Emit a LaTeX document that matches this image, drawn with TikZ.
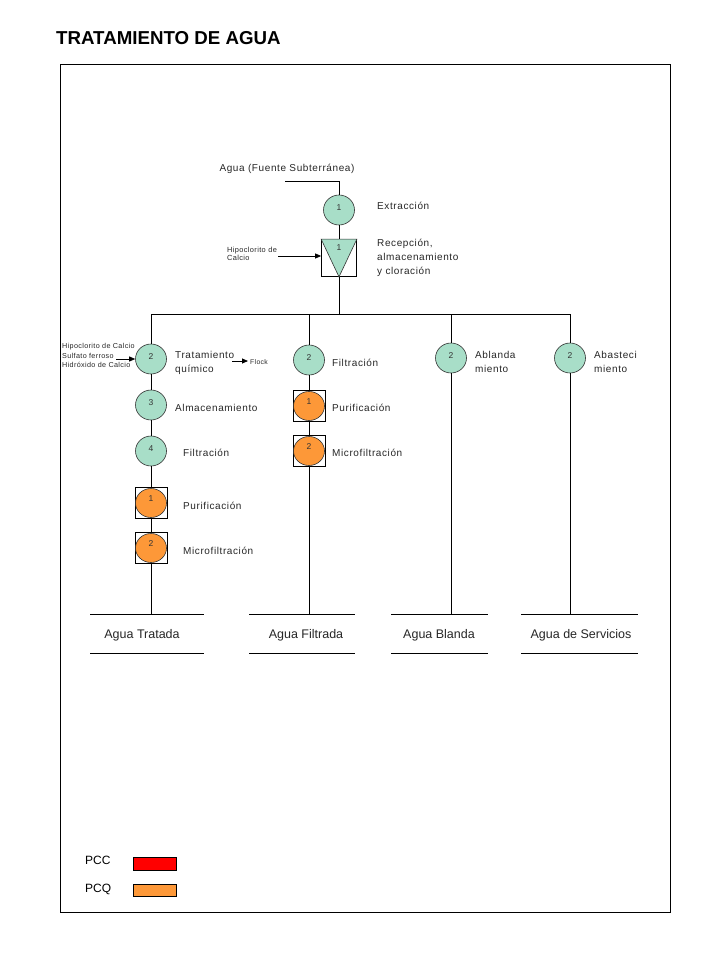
\documentclass[tikz,border=0pt]{standalone}
\usepackage{fontspec}
\setmainfont{Liberation Sans}
\newfontfamily\spc[LetterSpace=6]{Liberation Sans}
\newfontfamily\spt[LetterSpace=5]{Liberation Sans}
\usetikzlibrary{shapes.geometric,arrows.meta,calc}
\definecolor{teal}{RGB}{168,222,200}
\definecolor{orng}{RGB}{253,152,56}
\definecolor{pccred}{RGB}{255,0,0}
\tikzset{
  ell/.style={ellipse,draw=black!80,fill=teal,line width=0.6pt,minimum width=31pt,minimum height=30pt,inner sep=0pt},
  oell/.style={ellipse,draw=black!80,fill=orng,line width=0.6pt,minimum width=31pt,minimum height=29pt,inner sep=0pt},
  obox/.style={rectangle,draw=black,fill=white,line width=0.7pt,minimum width=32pt,minimum height=31pt,inner sep=0pt},
  num/.style={font=\fontsize{8.5}{9}\selectfont,text=black!80},
  lbl/.style={anchor=west,font=\fontsize{10}{14}\selectfont\spc,align=left,inner sep=0pt,text=black!85},
  tiny/.style={anchor=west,font=\fontsize{7.4}{8.6}\selectfont\spt,align=left,inner sep=0pt,text=black!85},
  outl/.style={font=\fontsize{12.5}{14}\selectfont,inner sep=0pt,text=black!85},
  ln/.style={line width=0.8pt},
  arr/.style={line width=0.8pt,-{Triangle[length=6pt,width=5pt]}},
}
\begin{document}
\begin{tikzpicture}[x=1pt,y=-1pt]
\useasboundingbox (0,0) rectangle (720,960);
% title and frame
\node[font=\fontsize{18.7}{20}\selectfont\bfseries,anchor=west,inner sep=0pt] (title) at (56,38) {TRATAMIENTO DE AGUA};
\draw[line width=0.7pt] (60,64) rectangle (670,912);

% source
\node[font=\fontsize{10}{11}\selectfont\spc,inner sep=0pt,text=black!85] (src) at (287,169) {Agua (Fuente Subterránea)};
\coordinate (s0) at (285,181);
\coordinate (s1) at (339,181);
\node[ell,label={[num,yshift=2pt]center:1}] (e1) at (339,210) {};
\draw[ln] (s0) -- (s1) -- (e1);
\node[lbl] (lext) at (377,206) {Extracción};

% reception box with triangle
\node[rectangle,draw=black,line width=0.7pt,minimum width=35pt,minimum height=37pt,inner sep=0pt] (rb) at (339,258) {};
\filldraw[fill=teal,draw=black!80,line width=0.6pt] (rb.north west) -- (rb.north east) -- (rb.south) -- cycle;
\node[num] (rbn) at (339,248) {1};
\draw[ln] (e1) -- (rb);
\node[tiny] (hip) at (227,254) {Hipoclorito de\\Calcio};
\coordinate (ha) at (278,256);
\draw[arr] (ha) -- (rb.west|-ha);
\node[lbl] (lrec) at (377,258) {Recepción,\\almacenamiento\\y cloración};

% bus
\coordinate (j) at (339,314);
\coordinate (b1) at (151,314);
\coordinate (b2) at (309,314);
\coordinate (b3) at (451,314);
\coordinate (b4) at (570,314);
\draw[ln] (rb) -- (j);
\draw[ln] (b1) -- (b4);

% column 1
\node[ell,label={[num,yshift=2pt]center:2}] (t2) at (151,359) {};
\node[ell,label={[num,yshift=2pt]center:3}] (t3) at (151,405) {};
\node[ell,label={[num,yshift=2pt]center:4}] (t4) at (151,451) {};
\node[obox] (p1b) at (151,503) {};
\node[oell,label={[num,yshift=4pt]center:1}] (p1) at (151,503) {};
\node[obox] (p2b) at (151,548) {};
\node[oell,label={[num,yshift=4pt]center:2}] (p2) at (151,548) {};
\coordinate (o1) at (151,614);
\draw[ln] (b1) -- (t2);
\draw[ln] (t2) -- (t3);
\draw[ln] (t3) -- (t4);
\draw[ln] (t4) -- (p1b);
\draw[ln] (p1b) -- (p2b);
\draw[ln] (p2b) -- (o1);
\node[tiny,font=\fontsize{7.2}{9.5}\selectfont\spt] (chem) at (62,355.5) {Hipoclorito de Calcio\\Sulfato ferroso\\Hidróxido de Calcio};
\coordinate (ca) at (116,359);
\draw[arr] (ca) -- (t2.west|-ca);
\node[lbl] (ltq) at (175,363) {Tratamiento\\químico};
\coordinate (fa0) at (232,361);
\coordinate (fa1) at (248,361);
\draw[arr] (fa0) -- (fa1);
\node[tiny,font=\fontsize{6.8}{8}\selectfont\spt] (flock) at (250,362) {Flock};
\node[lbl] (lalm) at (175,408) {Almacenamiento};
\node[lbl] (lfil1) at (183,453) {Filtración};
\node[lbl] (lpur1) at (183,506) {Purificación};
\node[lbl] (lmic1) at (183,551) {Microfiltración};

% column 2
\node[ell,label={[num,yshift=2pt]center:2}] (f2) at (309,360) {};
\node[obox] (q1b) at (309,406) {};
\node[oell,label={[num,yshift=4pt]center:1}] (q1) at (309,406) {};
\node[obox] (q2b) at (309,451) {};
\node[oell,label={[num,yshift=4pt]center:2}] (q2) at (309,451) {};
\coordinate (o2) at (309,614);
\draw[ln] (b2) -- (f2);
\draw[ln] (f2) -- (q1b);
\draw[ln] (q1b) -- (q2b);
\draw[ln] (q2b) -- (o2);
\node[lbl] (lfil2) at (332,363) {Filtración};
\node[lbl] (lpur2) at (332,408) {Purificación};
\node[lbl] (lmic2) at (332,453) {Microfiltración};

% column 3
\node[ell,label={[num,yshift=2pt]center:2}] (a2) at (451,358) {};
\coordinate (o3) at (451,614);
\draw[ln] (b3) -- (a2);
\draw[ln] (a2) -- (o3);
\node[lbl] (labl) at (475,362) {Ablanda\\miento};

% column 4
\node[ell,label={[num,yshift=2pt]center:2}] (v2) at (570,358) {};
\coordinate (o4) at (570,614);
\draw[ln] (b4) -- (v2);
\draw[ln] (v2) -- (o4);
\node[lbl] (labs) at (594,362) {Abasteci\\miento};

% outputs
\draw[ln] (90,614) -- (204,614);
\draw[ln] (90,653) -- (204,653);
\node[outl] (out1) at (142,635) {Agua Tratada};
\draw[ln] (249,614) -- (355,614);
\draw[ln] (249,653) -- (355,653);
\node[outl] (out2) at (306,635) {Agua Filtrada};
\draw[ln] (391,614) -- (488,614);
\draw[ln] (391,653) -- (488,653);
\node[outl] (out3) at (439,635) {Agua Blanda};
\draw[ln] (521,614) -- (638,614);
\draw[ln] (521,653) -- (638,653);
\node[outl] (out4) at (581,635) {Agua de Servicios};

% legend
\node[font=\fontsize{12}{14}\selectfont,anchor=west,inner sep=0pt] (pcc) at (85,860) {PCC};
\node[rectangle,draw=black,fill=pccred,minimum width=43pt,minimum height=13pt,inner sep=0pt,line width=0.7pt] (pccb) at (155,864) {};
\node[font=\fontsize{12}{14}\selectfont,anchor=west,inner sep=0pt] (pcq) at (85,889) {PCQ};
\node[rectangle,draw=black,fill=orng,minimum width=43pt,minimum height=12pt,inner sep=0pt,line width=0.7pt] (pcqb) at (155,890) {};
\end{tikzpicture}
\end{document}
